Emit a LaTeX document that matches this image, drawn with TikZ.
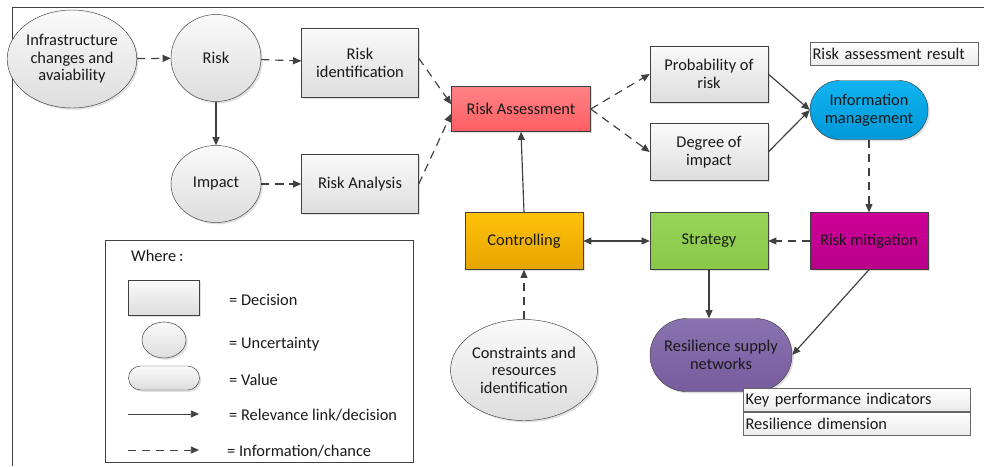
\documentclass[tikz,border=0pt]{standalone}
\usepackage{fontspec}
\setmainfont{Carlito}
\usetikzlibrary{shapes.geometric, shapes.misc, arrows.meta, shadows}

\definecolor{linegray}{HTML}{404040}
\definecolor{boxtop}{HTML}{FAFAFA}
\definecolor{boxbot}{HTML}{DDDDDD}
\definecolor{asstop}{HTML}{FF8286}
\definecolor{assbot}{HTML}{FF5E62}
\definecolor{infotop}{HTML}{10B4F0}
\definecolor{infobot}{HTML}{0098D8}
\definecolor{ctrltop}{HTML}{FFC20A}
\definecolor{ctrlbot}{HTML}{E6A400}
\definecolor{strattop}{HTML}{98D458}
\definecolor{stratbot}{HTML}{88C848}
\definecolor{mitigtop}{HTML}{CE0098}
\definecolor{mitigbot}{HTML}{B8008A}
\definecolor{restop}{HTML}{8A72B0}
\definecolor{resbot}{HTML}{775C9E}

\begin{document}
\begin{tikzpicture}[x=0.03cm, y=-0.03cm,
  every node/.style={font=\fontsize{14}{15}\selectfont, inner sep=0pt, align=center, text=black!90},
  shade/.style={drop shadow={shadow xshift=1.5pt, shadow yshift=-1.5pt, opacity=0.25}},
  dec/.style={shape=rectangle, draw=linegray, top color=boxtop, bottom color=boxbot, shade, minimum width=3.54cm, minimum height=1.71cm},
  unc/.style={shape=ellipse, draw=linegray, top color=boxtop, bottom color=boxbot, shade},
  val/.style={shape=rounded rectangle, draw=linegray, shade},
  tag/.style={shape=rectangle, draw=linegray!80, top color=white, bottom color=black!8, anchor=west, align=left, inner xsep=2pt, minimum height=0.7cm},
  rel/.style={draw=linegray, line width=1pt, -{Triangle[length=7pt, width=6pt]}},
  chance/.style={rel, dash pattern=on 7pt off 5pt}]
  \useasboundingbox (0,0) rectangle (984,466);
  \draw[black!75] (12,466) -- (12,7) -- (984,7);

  % uncertainty and decision nodes on the left
  \path (72,59) node[unc, minimum width=3.57cm, minimum height=2.94cm] (infra) {Infrastructure\\changes and\\avaiability}
  (216,58) node[unc, minimum width=2.7cm, minimum height=2.61cm] (risk) {Risk}
  (216,184) node[unc, minimum width=2.7cm, minimum height=2.31cm] (impact) {Impact}
  (360,63) node[dec, minimum width=3.51cm, minimum height=2.07cm] (riskid) {Risk\\identification}
  (360,184) node[dec, minimum width=3.51cm, minimum height=1.77cm] (riskan) {Risk Analysis};

  % assessment and management
  \path (521,109) node[dec, minimum width=4.17cm, minimum height=1.35cm, top color=asstop, bottom color=assbot] (riskass) {Risk Assessment}
  (709,74) node[dec, minimum height=1.68cm] (prob) {Probability of\\risk}
  (709,152) node[dec] (degree) {Degree of\\impact}
  (869,110) node[val, minimum width=3.54cm, minimum height=1.77cm, top color=infotop, bottom color=infobot] (info) {Information\\management}
  (810,54) node[tag, minimum width=5.04cm, text width=4.9cm] (result) {Risk assessment result};

  % strategy row
  \path (524,241) node[dec, top color=ctrltop, bottom color=ctrlbot] (ctrl) {Controlling}
  (709,241) node[dec, top color=strattop, bottom color=stratbot] (strat) {Strategy}
  (869,241) node[dec, top color=mitigtop, bottom color=mitigbot] (mitig) {Risk mitigation}
  (524,370) node[unc, minimum width=3.54cm, minimum height=3.03cm] (constr) {Constraints and\\resources\\identification}
  (721,355) node[val, minimum width=4.26cm, minimum height=2.19cm, top color=restop, bottom color=resbot] (res) {Resilience supply\\networks}
  (743,400) node[tag, minimum width=6.81cm, text width=6.67cm] (kpi) {Key performance indicators}
  (743,424) node[tag, minimum width=6.81cm, text width=6.67cm] (resdim) {Resilience dimension};

  % legend
  \draw[black!75] (105,240) rectangle (413,462);
  \node[anchor=west] (where) at (131,256) {Where\,:};
  \path (164,298) node[dec, minimum width=2.13cm, minimum height=1.05cm, drop shadow={opacity=0}] (ldec) {}
  (164,340) node[unc, minimum width=1.32cm, minimum height=1.08cm, drop shadow={opacity=0}] (lunc) {}
  (164,378) node[val, minimum width=2.13cm, minimum height=0.72cm, top color=boxtop, bottom color=boxbot, drop shadow={opacity=0}] (lval) {};
  \coordinate (lrel1) at (128,414);
  \coordinate (lrel2) at (199,414);
  \coordinate (lch1) at (128,450);
  \coordinate (lch2) at (199,450);
  \node[anchor=west] at (229,300) {= Decision};
  \node[anchor=west] at (229,344) {= Uncertainty};
  \node[anchor=west] at (229,380) {= Value};
  \node[anchor=west] at (229,415) {= Relevance link/decision};
  \node[anchor=west] at (227,451) {= Information/chance};
  \draw[rel, line width=0.8pt] (lrel1) -- (lrel2);
  \draw[chance, line width=0.8pt] (lch1) -- (lch2);

  % connectors
  \draw[chance] (infra) -- (risk);
  \draw[chance] (risk) -- (riskid);
  \draw[rel] (risk) -- (impact);
  \draw[chance] (impact) -- (riskan);
  \draw[chance] ([yshift=4pt]riskid.east) -- ([yshift=4pt]riskass.west);
  \draw[chance] (riskan.east) -- ([yshift=-4pt]riskass.west);
  \draw[chance] (riskass.east) -- (prob.west);
  \draw[chance] (riskass.east) -- (degree.west);
  \draw[rel] (prob.east) -- (info.west);
  \draw[rel] (degree.east) -- (info.west);
  \draw[chance] (info.south) -- (mitig.north);
  \draw[chance] (mitig.west) -- (strat.east);
  \draw[rel, {Triangle[length=7pt, width=6pt]}-{Triangle[length=7pt, width=6pt]}] (ctrl.east) -- (strat.west);
  \draw[rel] (ctrl.north) -- (riskass.south);
  \draw[chance] (constr.north) -- (ctrl.south);
  \draw[rel] (strat.south) -- (strat.south |- res.north);
  \draw[rel] (mitig.south) -- (res.east);
\end{tikzpicture}
\end{document}
